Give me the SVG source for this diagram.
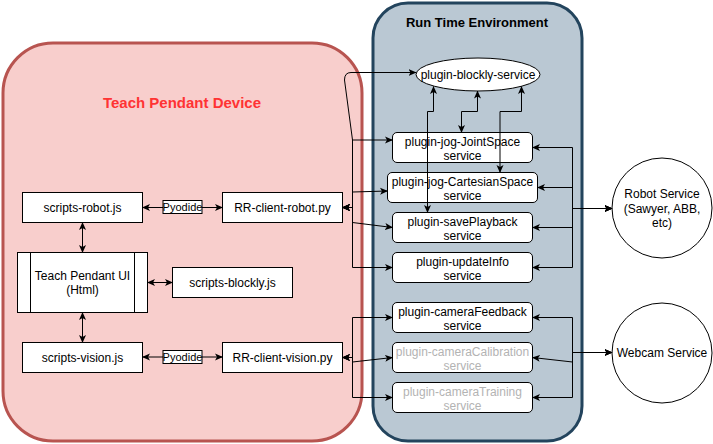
<svg xmlns="http://www.w3.org/2000/svg" width="713" height="444" viewBox="0 0 713 444">
<style>
text{font-family:"Liberation Sans",Arial,sans-serif;font-size:12px;fill:#000;text-anchor:middle}
.box{fill:#fff;stroke:#000;stroke-width:1}
.lbl{fill:#fff;stroke:#000;stroke-width:1}
.gray{fill:#b3b3b3}
.e{fill:none;stroke:#000;stroke-width:1}
.both{marker-start:url(#a);marker-end:url(#a)}
.end{marker-end:url(#a)}
</style>
<defs>
<marker id="a" viewBox="0 0 8 8" refX="7.5" refY="4" markerWidth="8" markerHeight="8" markerUnits="userSpaceOnUse" orient="auto-start-reverse">
<path d="M0,0.5 L8,4 L0,7.5 L2,4 Z" fill="#000"/>
</marker>
</defs>

<g id="teach-pendant-device">
<rect x="3" y="43" width="359" height="398" rx="50" fill="#f8cecc" stroke="#b85450" stroke-width="3"/>
<text x="182" y="108" style="font-weight:bold;font-size:15px;fill:#ff3333">Teach Pendant Device</text>
</g>
<g id="run-time-environment">
<rect x="373" y="3" width="209" height="438" rx="35" fill="#bac8d3" stroke="#23445d" stroke-width="3"/>
<text x="477" y="27" style="font-weight:bold;font-size:13px">Run Time Environment</text>
</g>

<g id="plugin-blockly-service">
<ellipse cx="478" cy="74.5" rx="62" ry="16.5" class="box"/>
<text x="478" y="78.5">plugin-blockly-service</text>
</g>
<g id="plugin-jog-jointspace">
<rect x="392.5" y="132.5" width="140" height="30" rx="4.5" class="box"/>
<text x="462.5" y="145.5">plugin-jog-JointSpace</text>
<text x="462.5" y="159.5">service</text>
</g>
<g id="plugin-jog-cartesianspace">
<rect x="387.5" y="172.5" width="150" height="30" rx="4.5" class="box"/>
<text x="462.5" y="185.5">plugin-jog-CartesianSpace</text>
<text x="462.5" y="199.5">service</text>
</g>
<g id="plugin-saveplayback">
<rect x="392.5" y="212.5" width="140" height="30" rx="4.5" class="box"/>
<text x="462.5" y="225.5">plugin-savePlayback</text>
<text x="462.5" y="239.5">service</text>
</g>
<g id="plugin-updateinfo">
<rect x="392.5" y="252.5" width="140" height="30" rx="4.5" class="box"/>
<text x="462.5" y="265.5">plugin-updateInfo</text>
<text x="462.5" y="279.5">service</text>
</g>
<g id="plugin-camerafeedback">
<rect x="392.5" y="302.5" width="140" height="30" rx="4.5" class="box"/>
<text x="462.5" y="315.5">plugin-cameraFeedback</text>
<text x="462.5" y="329.5">service</text>
</g>
<g id="plugin-cameracalibration">
<rect x="392.5" y="342.5" width="140" height="30" rx="4.5" class="box"/>
<text x="462.5" y="355.5" class="gray">plugin-cameraCalibration</text>
<text x="462.5" y="369.5" class="gray">service</text>
</g>
<g id="plugin-cameratraining">
<rect x="392.5" y="382.5" width="140" height="30" rx="4.5" class="box"/>
<text x="462.5" y="395.5" class="gray">plugin-cameraTraining</text>
<text x="462.5" y="409.5" class="gray">service</text>
</g>

<g id="scripts-robot">
<rect x="22.5" y="192.5" width="120" height="30" class="box"/>
<text x="82.5" y="211.5">scripts-robot.js</text>
</g>
<g id="rr-client-robot">
<rect x="222.5" y="192.5" width="120" height="30" class="box"/>
<text x="282.5" y="211.5">RR-client-robot.py</text>
</g>
<g id="teach-pendant-ui">
<rect x="17.5" y="252.5" width="130" height="60" class="box"/>
<path d="M30.5,252.5 V312.5 M134.5,252.5 V312.5" class="e"/>
<text x="82.5" y="280">Teach Pendant UI</text>
<text x="82.5" y="294">(Html)</text>
</g>
<g id="scripts-blockly">
<rect x="172.5" y="267.5" width="120" height="30" class="box"/>
<text x="232.5" y="286.5">scripts-blockly.js</text>
</g>
<g id="scripts-vision">
<rect x="22.5" y="342.5" width="120" height="30" class="box"/>
<text x="82.5" y="361.5">scripts-vision.js</text>
</g>
<g id="rr-client-vision">
<rect x="222.5" y="342.5" width="120" height="30" class="box"/>
<text x="282.5" y="361.5">RR-client-vision.py</text>
</g>

<g id="robot-service">
<circle cx="662" cy="208" r="50" class="box"/>
<text x="662" y="198">Robot Service</text>
<text x="662" y="212.5">(Sawyer, ABB,</text>
<text x="662" y="227">etc)</text>
</g>
<g id="webcam-service">
<circle cx="662" cy="353" r="50" class="box"/>
<text x="662" y="357">Webcam Service</text>
</g>

<g id="connectors">
<path d="M142.5,207.5 H222.5" class="e both"/>
<path d="M82.5,222.5 V252.5" class="e both"/>
<path d="M147.5,282.5 H172.5" class="e both"/>
<path d="M82.5,312.5 V342.5" class="e both"/>
<path d="M142.5,357 H222.5" class="e both"/>
<path d="M342.5,207.5 H352.5 V140 L344.5,80 Q344.5,72.5 351,72.5 H416" class="e both"/>
<path d="M342.5,207.5 H352.5 V140 H392.5" class="e both"/>
<path d="M342.5,207.5 H352.5 V192 L387.5,191" class="e both"/>
<path d="M342.5,207.5 H352.5 V222.5 L392.5,227.5" class="e both"/>
<path d="M342.5,207.5 H352.5 V267.5 H392.5" class="e both"/>
<path d="M342.5,357.5 H352.5 V317.5 H392.5" class="e both"/>
<path d="M342.5,357.5 H352.5 V362 L392.5,357.5" class="e both"/>
<path d="M342.5,357.5 H352.5 V397.5 H392.5" class="e both"/>
<path d="M433.5,86.5 V111.5 H427.5 V212.5" class="e both"/>
<path d="M477.5,91 V111.5 H461.5 V132.5" class="e both"/>
<path d="M521.5,86.5 V111.5 H500 V172.5" class="e both"/>
<path d="M612,208.5 H572.5 V147.5 H532.5" class="e both"/>
<path d="M612,208.5 H572.5 V187.5 H537.5" class="e both"/>
<path d="M612,208.5 H572.5 V227.5 H532.5" class="e both"/>
<path d="M612,208.5 H572.5 V267.5 H532.5" class="e both"/>
<path d="M612,352.5 H572.5 V317.5 H532.5" class="e both"/>
<path d="M612,352.5 H572.5 V362 L532.5,357.5" class="e both"/>
<path d="M612,352.5 H572.5 V397.5 H532.5" class="e both"/>
</g>

<g id="edge-labels">
<rect x="163" y="200.5" width="39" height="13" class="lbl"/>
<text x="182.5" y="211" style="font-size:11px">Pyodide</text>
<rect x="163" y="350.5" width="39" height="13" class="lbl"/>
<text x="182.5" y="361" style="font-size:11px">Pyodide</text>
</g>
</svg>
